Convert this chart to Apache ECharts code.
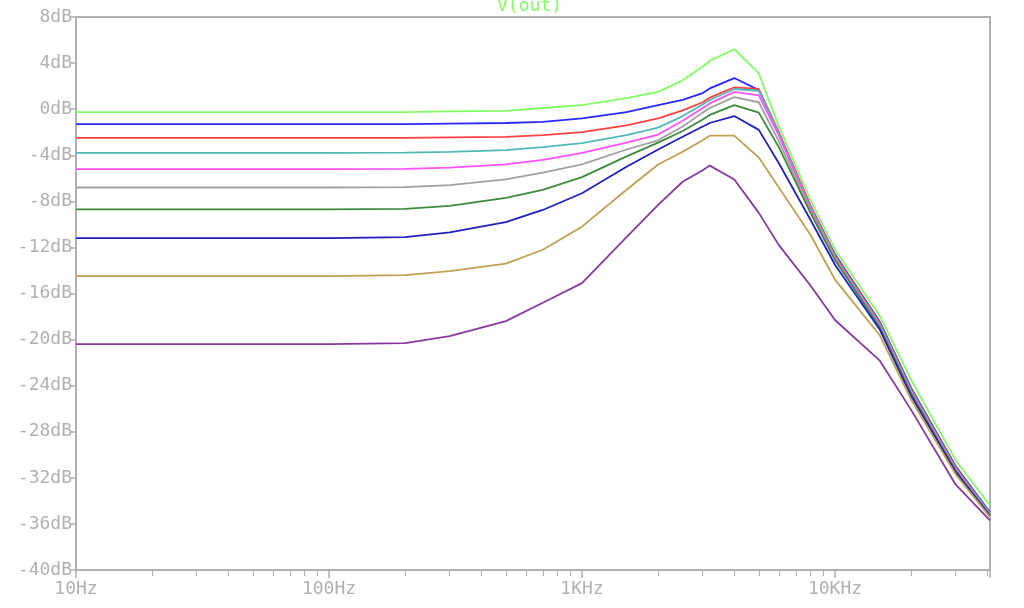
<!DOCTYPE html>
<html><head><meta charset="utf-8">
<script src="https://cdn.jsdelivr.net/npm/echarts@6/dist/echarts.min.js"></script>
<style>html,body{margin:0;background:#fff}#chart{width:1024px;height:608px}</style>
</head><body><div id="chart"></div>
<script>
var freqs  = [10, 100, 200, 300, 500, 700, 1000, 1500, 2000, 2500, 3000, 3200, 4000, 5000, 6000, 8000, 10000, 15000, 20000, 30000, 41000];
var green  = [-0.25, -0.25, -0.25, -0.2, -0.15, 0.1, 0.35, 0.95, 1.5, 2.5, 3.7, 4.2, 5.2, 3.1, -1.5, -7.9, -12.2, -17.9, -23.5, -30.5, -34.4];
var blue   = [-1.3, -1.3, -1.3, -1.25, -1.2, -1.1, -0.8, -0.25, 0.35, 0.8, 1.4, 1.8, 2.7, 1.65, -2.1, -8.4, -12.6, -18.4, -24.2, -31.0, -35.0];
var red    = [-2.5, -2.5, -2.5, -2.45, -2.4, -2.25, -2.0, -1.4, -0.8, -0.1, 0.6, 1.0, 1.9, 1.75, -2.0, -8.4, -12.7, -18.5, -24.3, -31.1, -35.1];
var cyan   = [-3.8, -3.8, -3.78, -3.7, -3.55, -3.3, -2.95, -2.25, -1.6, -0.6, 0.4, 0.8, 1.75, 1.6, -2.1, -8.5, -12.8, -18.6, -24.4, -31.2, -35.1];
var pink   = [-5.2, -5.2, -5.18, -5.08, -4.8, -4.4, -3.8, -2.9, -2.2, -1.0, 0.1, 0.5, 1.5, 1.2, -2.3, -8.6, -12.9, -18.7, -24.5, -31.2, -35.2];
var gray   = [-6.8, -6.8, -6.76, -6.6, -6.1, -5.5, -4.8, -3.5, -2.7, -1.5, -0.3, 0.1, 1.05, 0.6, -2.8, -8.8, -13.0, -18.8, -24.6, -31.3, -35.2];
var dkgreen= [-8.7, -8.7, -8.65, -8.4, -7.7, -7.0, -5.9, -4.1, -2.9, -1.9, -0.9, -0.5, 0.35, -0.3, -3.3, -9.0, -13.1, -18.9, -24.7, -31.4, -35.3];
var navy   = [-11.2, -11.2, -11.1, -10.7, -9.8, -8.75, -7.3, -5.0, -3.5, -2.4, -1.5, -1.2, -0.6, -1.8, -4.7, -9.6, -13.5, -19.1, -24.9, -31.5, -35.3];
var tan    = [-14.5, -14.5, -14.4, -14.05, -13.4, -12.2, -10.2, -7.0, -4.8, -3.7, -2.7, -2.3, -2.3, -4.2, -6.8, -10.9, -14.8, -19.6, -25.2, -31.7, -35.4];
var purple = [-20.4, -20.4, -20.3, -19.7, -18.4, -16.8, -15.1, -11.1, -8.3, -6.3, -5.3, -4.9, -6.1, -9.0, -11.8, -15.3, -18.3, -21.8, -26.1, -32.6, -35.7];

var curves = [
  [green, '#80ff60'], [blue, '#2828ff'], [red, '#ff4040'], [cyan, '#50b8b8'],
  [pink, '#ff50ff'], [gray, '#a0a0a0'], [dkgreen, '#3c8a3c'], [navy, '#2020c0'],
  [tan, '#c0a050'], [purple, '#8838a0']
];

function pairs(vals) {
  return vals.map(function (v, i) { return [freqs[i], v]; });
}

var axisGray = '#b0b0b0';
var font = 'DejaVu Sans Mono';

option = {
  animation: false,
  title: {
    text: 'V(out)', left: 492, top: -8,
    textStyle: {color: '#80ff60', fontFamily: font, fontSize: 18, fontWeight: 'normal'}
  },
  grid: {left: 76, right: 34, top: 17, bottom: 38, show: true, borderColor: axisGray, borderWidth: 2},
  xAxis: {
    type: 'log', min: 10, max: 41000, logBase: 10,
    axisLine: {onZero: false, lineStyle: {color: axisGray, width: 2}},
    axisTick: {inside: false, length: 8, lineStyle: {color: axisGray, width: 1.5}},
    minorTick: {show: true, splitNumber: 9, length: 6, lineStyle: {color: axisGray}},
    splitLine: {show: false},
    axisLabel: {
      color: axisGray, fontFamily: font, fontSize: 18, margin: 10, showMaxLabel: false,
      formatter: function (v) {
        if (v >= 1000) return (v / 1000) + 'KHz';
        return v + 'Hz';
      }
    }
  },
  yAxis: {
    type: 'value', min: -40, max: 8, interval: 4,
    axisLine: {show: true, lineStyle: {color: axisGray, width: 2}},
    axisTick: {show: true, length: 6, lineStyle: {color: axisGray, width: 1.5}},
    splitLine: {show: false},
    axisLabel: {color: axisGray, fontFamily: font, fontSize: 18, margin: 4, formatter: '{value}dB'}
  },
  series: curves.map(function (c) {
    return {
      type: 'line', data: pairs(c[0]), smooth: false, showSymbol: false,
      lineStyle: {color: c[1], width: 1.8}, clip: true
    };
  })
};
echarts.init(document.getElementById('chart')).setOption(option);
</script>
</body></html>
